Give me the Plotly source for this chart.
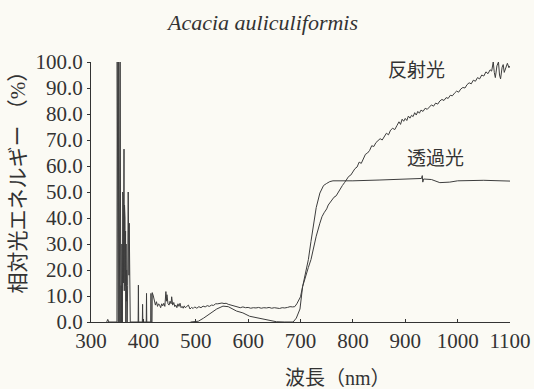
import plotly.graph_objects as go

# ---------------- data ----------------
title_text = "Acacia auliculiformis"
x_title = "波長（nm）"
y_title = "相対光エネルギー （%）"
label_reflect = "反射光"
label_trans = "透過光"

x_ticks = [300, 400, 500, 600, 700, 800, 900, 1000, 1100]
y_ticks = [0, 10, 20, 30, 40, 50, 60, 70, 80, 90, 100]
y_ticklabels = ["0.0", "10.0", "20.0", "30.0", "40.0", "50.0", "60.0", "70.0", "80.0", "90.0", "100.0"]

# reflectance (反射光) — noisy spikes in the UV, then the leaf curve
refl_nm = [330, 332, 334, 349.5,
           350, 350.7, 351.4, 352.1, 352.8, 353.5, 354.2, 354.9, 355.6, 356.3,
           357, 357.5, 358, 359, 360, 360.5, 361, 361.5, 362, 362.5, 363, 363.5, 364, 364.5, 365,
           365.5, 366, 366.5, 367, 367.5, 368, 369, 370, 371, 371.5, 372, 372.5, 373, 373.5, 374, 375,
           390, 390.5, 391, 398, 398.5, 399, 405.5, 406, 406.5, 414, 414.5, 415, 416.5,
           417, 419, 421, 423, 425, 427, 429, 431, 433, 435, 437, 439, 441, 443, 444, 445, 447, 449,
           451, 453, 454, 456, 458, 460, 462, 464, 466, 468, 470, 472, 474, 476, 478, 480, 483, 486,
           489, 492, 495, 498, 502, 506, 510, 514, 518, 522, 526, 530, 534, 538, 542, 546, 550, 554,
           558, 562, 566, 570, 575, 580, 585, 590, 595, 600, 605, 610, 615, 620, 625, 630, 635, 640,
           645, 650, 655, 660, 665, 670, 675, 680, 685, 689, 693, 697, 700, 704, 710, 715, 720, 725,
           730, 737, 741, 745, 750, 753, 756, 760, 764, 768, 772, 776, 780, 784, 788, 792, 796, 800,
           804, 808, 812, 816, 820, 824, 828, 832, 836, 840, 844, 848, 852, 856, 860, 864, 868, 872,
           876, 880, 884, 888, 891, 894, 897, 900, 903, 906, 909, 912, 915, 918, 921, 924, 927, 930,
           934, 938, 942, 946, 950, 954, 958, 962, 966, 970, 974, 978, 982, 986, 990, 994, 998, 1002,
           1006, 1010, 1014, 1018, 1022, 1026, 1030, 1034, 1038, 1042, 1046, 1050, 1054, 1058, 1062,
           1065, 1068, 1070, 1072, 1075, 1078, 1080, 1082, 1085, 1087, 1089, 1092, 1095, 1098, 1100]
refl_val = [0, 1.0, 0, 0,
            100, 4, 100, 0, 100, 6, 100, 0, 100, 10,
            0, 14, 0, 30, 0, 50, 10, 48, 15, 40, 66.5, 12, 45, 22, 40,
            14, 35, 0, 30, 8, 20, 0, 14, 50, 25, 50, 18, 38, 5, 0, 0,
            0, 14.2, 0, 0, 6.8, 0, 0, 11, 0, 0, 11, 0, 0,
            11.3, 10, 8, 6.5, 7.8, 6, 7, 6.5, 5.5, 7, 6.2, 7.2, 6, 11.7, 8, 10.5, 7, 6.5,
            8, 7, 9.7, 6.5, 7.5, 5.9, 6.5, 5.5, 7, 6, 7.2, 5.5, 6, 5.3, 6.2, 5.5, 6, 6.5,
            5, 5.6, 5.2, 5.8, 5.3, 5.9, 5.5, 6.1, 5.8, 6.3, 6.0, 6.5, 6.4, 7.0, 7.0, 7.2, 7.3, 7.1,
            7.2, 6.8, 6.6, 6.3, 6.0, 5.8, 5.5, 5.8, 5.5, 5.6, 5.3, 5.5, 5.4, 5.6, 5.3, 5.5, 5.4, 5.6,
            5.3, 5.5, 5.4, 5.2, 5.5, 5.4, 5.6, 5.9, 5.8, 5.9, 7.0, 8.5, 9.7, 13.6, 18, 21, 24, 29,
            33, 38, 40.5, 42, 43.5, 45, 45.8, 47, 48, 48.5, 50, 51, 52.5, 53.6, 55, 56, 56.5, 57.8,
            59, 59.6, 61.5, 61, 62.5, 64.5, 65, 66, 67.8, 67.5, 69, 69.8, 70.5, 70, 71.5, 72.6, 72, 73.8,
            74.5, 74, 75.5, 77, 76, 78, 77.2, 78.3, 77.5, 79.2, 78.4, 79.5, 79, 80.5, 79.6, 81, 80.3, 81.5,
            81, 82.2, 81.8, 82.5, 83.5, 83, 84.2, 83.8, 85, 85.6, 85.2, 86.3, 86, 87.2, 87, 88, 88.8, 88.4,
            89.6, 90.2, 90, 91.3, 92, 91.6, 93, 92.6, 94, 93.5, 95, 94.6, 96.2, 95.5, 97,
            96.5, 100, 96, 94, 98.5, 100, 95, 93.5, 98, 99, 96, 97.5, 99.5, 97.8, 98.5]

# transmittance (透過光)
trans_nm = [490, 505, 515, 527, 540, 552, 562, 578, 590, 603, 620, 635, 654, 670, 686, 692,
            699, 704, 709, 715, 720, 724, 730, 737, 744, 750, 756, 762, 775, 800, 850, 900,
            920, 931, 932.5, 933.5, 935, 950, 966, 985, 1000, 1050, 1100]
trans_val = [0, 0.3, 1.5, 3.3, 5.0, 6.1, 5.9, 4.2, 3.5, 2.2, 1.5, 1.0, 0.1, 0, 0, 1.5,
             5.0, 13.6, 19, 24, 31, 36.7, 44, 49.6, 52.5, 53.3, 54, 54.3, 54.3, 54.3, 54.6, 54.8,
             55.0, 55.2, 56.3, 53.8, 55, 54.8, 53.6, 53.8, 54.3, 54.5, 54.2]

# ---------------- figure ----------------
ink = "#333333"
line_ink = "#3d3d3d"
bg = "#fbfaf4"
serif = "Liberation Serif, DejaVu Serif, serif"
cjk = "Liberation Serif, Noto Sans CJK JP"

fig = go.Figure()
fig.add_trace(go.Scatter(x=refl_nm, y=refl_val, mode="lines", name=label_reflect,
                         line=dict(color=line_ink, width=1)))
fig.add_trace(go.Scatter(x=trans_nm, y=trans_val, mode="lines", name=label_trans,
                         line=dict(color=line_ink, width=1)))

fig.update_layout(
    width=534, height=389,
    margin=dict(l=91, r=24, t=62, b=67),
    paper_bgcolor=bg, plot_bgcolor=bg,
    showlegend=False,
    font=dict(family=serif, color=ink),
    title=dict(text=title_text, x=263 / 534, xanchor="center", y=1 - 22 / 389, yanchor="middle",
               font=dict(family=serif, style="italic", size=22, color=ink)),
    xaxis=dict(range=[300, 1100], tickvals=x_ticks, ticktext=[str(v) for v in x_ticks],
               automargin=False,
               showgrid=False, zeroline=False, showline=True, linecolor=ink, linewidth=1,
               ticks="inside", ticklen=3, tickcolor=ink,
               tickfont=dict(family=serif, size=21, color=ink)),
    yaxis=dict(range=[0, 100], tickvals=y_ticks, ticktext=y_ticklabels,
               automargin=False,
               showgrid=False, zeroline=False, showline=True, linecolor=ink, linewidth=1,
               ticks="outside", ticklen=3, tickcolor=ink,
               tickfont=dict(family=serif, size=21, color=ink)),
    annotations=[
        dict(text=label_reflect, x=922, y=97.5, xref="x", yref="y", showarrow=False,
             font=dict(family="Noto Sans CJK JP", size=19, color=ink)),
        dict(text=label_trans, x=957, y=63.5, xref="x", yref="y", showarrow=False,
             font=dict(family="Noto Sans CJK JP", size=19, color=ink)),
        dict(text=x_title, x=(338 - 91) / 419, y=(322 - 378) / 260, xref="paper", yref="paper",
             showarrow=False, xanchor="center", yanchor="middle",
             font=dict(family=cjk, size=20, color=ink)),
        dict(text=y_title, x=(17.5 - 91) / 419, y=(322 - 177) / 260, xref="paper", yref="paper",
             showarrow=False, textangle=-90, xanchor="center", yanchor="middle",
             font=dict(family=cjk, size=21, color=ink)),
    ],
)

fig.write_html("out.html", config={"displayModeBar": False},
               post_script="document.body.style.margin='0';document.body.style.padding='0';"
                           "document.body.style.overflow='hidden';")
